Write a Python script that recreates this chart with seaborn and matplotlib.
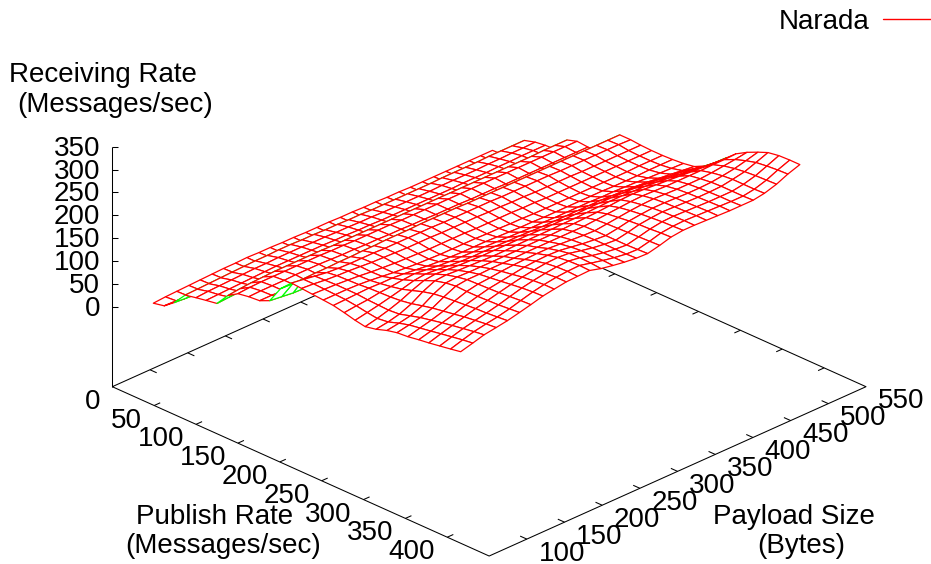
import numpy as np
import seaborn as sns
import matplotlib
matplotlib.use("Agg")
import matplotlib.pyplot as plt
from matplotlib.lines import Line2D
from mpl_toolkits.mplot3d import proj3d

sns.set_theme(style="white")
plt.rcParams["font.family"] = ["Liberation Sans", "DejaVu Sans"]
plt.rcParams["text.color"] = "black"

# values
publish_rate = [49, 62, 74, 87, 100, 112, 125, 138, 150, 163, 176, 188, 201, 214, 226, 239, 252, 264, 277, 290, 302, 315, 328, 340, 353, 366, 378, 391, 404, 416]
payload_size = [50, 66, 81, 97, 112, 128, 143, 159, 174, 190, 205, 221, 236, 252, 267, 283, 298, 314, 329, 345, 360, 376, 391, 407, 422, 438, 453, 469, 484, 500]
receiving_rate = [
    [48, 53, 70, 97, 102, 106, 110, 138, 152, 156, 158, 168, 205, 228, 226, 224, 222, 220, 215, 209, 205, 210, 218, 223, 225, 229, 232, 236, 240, 244],
    [50, 52, 68, 98, 104, 107, 112, 141, 154, 157, 158, 165, 204, 224, 224, 223, 222, 221, 218, 214, 211, 214, 222, 228, 232, 236, 240, 244, 248, 251],
    [51, 52, 66, 99, 105, 108, 113, 143, 155, 157, 157, 162, 204, 220, 221, 222, 222, 222, 220, 219, 218, 220, 227, 233, 238, 243, 247, 251, 255, 258],
    [52, 53, 66, 100, 106, 109, 114, 144, 155, 157, 157, 161, 205, 216, 219, 220, 221, 223, 224, 225, 227, 231, 237, 242, 246, 250, 254, 257, 260, 262],
    [53, 54, 67, 101, 107, 110, 115, 145, 155, 158, 156, 160, 205, 214, 218, 218, 219, 222, 226, 231, 238, 246, 252, 255, 257, 259, 261, 262, 264, 266],
    [54, 55, 68, 102, 108, 111, 115, 145, 155, 158, 157, 160, 206, 213, 216, 215, 216, 222, 229, 238, 248, 258, 264, 267, 266, 266, 267, 268, 270, 272],
    [55, 56, 70, 103, 108, 112, 116, 145, 155, 158, 157, 159, 206, 213, 214, 213, 213, 220, 231, 241, 251, 260, 266, 270, 271, 272, 273, 275, 277, 278],
    [55, 56, 71, 103, 109, 112, 116, 145, 155, 157, 157, 160, 207, 213, 213, 211, 211, 217, 228, 239, 249, 258, 265, 270, 273, 276, 279, 282, 284, 285],
    [56, 56, 72, 104, 109, 112, 116, 145, 154, 156, 156, 160, 207, 212, 212, 210, 209, 214, 225, 236, 247, 257, 265, 271, 276, 280, 284, 287, 289, 289],
    [55, 56, 72, 104, 109, 112, 115, 144, 154, 156, 156, 160, 208, 212, 211, 209, 208, 212, 223, 234, 246, 256, 265, 271, 278, 284, 288, 291, 293, 293],
    [55, 55, 71, 103, 108, 112, 115, 144, 153, 155, 156, 160, 208, 212, 211, 208, 207, 211, 222, 233, 245, 255, 265, 271, 279, 286, 291, 294, 295, 294],
    [54, 55, 70, 103, 108, 111, 114, 144, 153, 155, 155, 160, 208, 212, 211, 208, 207, 210, 221, 233, 245, 255, 265, 272, 280, 287, 292, 295, 296, 295],
    [54, 54, 70, 102, 107, 111, 114, 144, 153, 154, 155, 160, 209, 212, 210, 208, 207, 210, 221, 233, 245, 256, 266, 272, 280, 286, 290, 291, 290, 288],
    [53, 54, 69, 102, 107, 110, 113, 144, 153, 154, 155, 160, 209, 211, 210, 208, 207, 210, 220, 232, 245, 256, 266, 272, 278, 282, 284, 284, 284, 283],
    [53, 53, 68, 101, 106, 110, 113, 144, 152, 153, 154, 160, 209, 211, 210, 207, 206, 209, 219, 232, 245, 256, 266, 272, 276, 278, 279, 279, 279, 279],
    [53, 53, 68, 101, 106, 109, 112, 144, 152, 153, 154, 159, 209, 211, 210, 207, 206, 208, 218, 231, 244, 256, 267, 272, 274, 275, 275, 275, 275, 276],
    [52, 52, 67, 100, 105, 109, 112, 144, 152, 152, 153, 159, 208, 211, 209, 207, 205, 207, 217, 230, 244, 257, 268, 272, 273, 273, 273, 273, 274, 275],
    [52, 52, 67, 100, 105, 109, 112, 144, 152, 152, 153, 158, 208, 211, 209, 207, 205, 207, 217, 230, 244, 257, 269, 274, 276, 277, 278, 279, 280, 281],
    [51, 52, 66, 100, 105, 109, 112, 144, 152, 152, 152, 158, 208, 210, 208, 206, 204, 206, 216, 230, 244, 258, 270, 276, 279, 282, 284, 285, 287, 288],
    [51, 51, 66, 100, 105, 109, 112, 144, 152, 151, 152, 157, 208, 210, 208, 206, 204, 206, 216, 230, 245, 259, 272, 278, 282, 285, 287, 289, 290, 291],
    [50, 51, 66, 100, 105, 109, 112, 144, 152, 151, 151, 157, 208, 210, 207, 205, 204, 206, 216, 230, 245, 260, 274, 280, 284, 287, 289, 290, 291, 291],
    [50, 50, 65, 100, 106, 109, 112, 144, 152, 151, 151, 156, 208, 210, 207, 205, 204, 206, 216, 230, 245, 260, 275, 281, 285, 287, 288, 289, 290, 290],
    [49, 50, 65, 101, 106, 110, 113, 144, 152, 150, 151, 156, 208, 210, 207, 205, 204, 206, 215, 229, 244, 259, 274, 280, 284, 286, 287, 288, 289, 289],
    [49, 50, 65, 101, 106, 110, 113, 144, 152, 150, 151, 156, 208, 209, 207, 205, 204, 206, 215, 228, 243, 258, 272, 279, 283, 285, 286, 287, 288, 288],
    [49, 50, 65, 101, 106, 110, 113, 144, 152, 150, 150, 155, 208, 209, 206, 205, 204, 205, 214, 226, 241, 256, 270, 279, 283, 285, 286, 287, 287, 288],
    [49, 50, 65, 101, 107, 111, 113, 144, 152, 150, 150, 155, 208, 209, 206, 205, 204, 205, 213, 224, 238, 253, 268, 279, 283, 286, 287, 287, 287, 288],
    [49, 50, 64, 102, 107, 111, 113, 144, 152, 150, 150, 154, 208, 209, 206, 205, 204, 205, 211, 221, 235, 250, 266, 279, 285, 289, 291, 291, 291, 292],
    [49, 50, 64, 102, 108, 112, 113, 145, 152, 150, 150, 153, 208, 209, 206, 205, 205, 206, 210, 218, 232, 247, 264, 280, 288, 293, 296, 298, 299, 300],
    [49, 50, 64, 102, 108, 112, 113, 145, 152, 150, 150, 153, 208, 209, 206, 205, 205, 206, 209, 215, 228, 244, 263, 280, 291, 299, 305, 308, 310, 311],
    [49, 50, 64, 102, 109, 112, 113, 145, 152, 150, 150, 152, 208, 208, 206, 205, 205, 206, 208, 212, 223, 241, 262, 281, 295, 306, 315, 319, 320, 320],
]
x_ticks = [0, 50, 100, 150, 200, 250, 300, 350, 400]
y_ticks = [100, 150, 200, 250, 300, 350, 400, 450, 500, 550]
z_ticks = [0, 50, 100, 150, 200, 250, 300, 350]

W, H = 931, 564
FS = 20
x0, x1 = 0, 450
y0, y1 = 50, 550
base = -175
ztop = 350

fig = plt.figure(figsize=(W / 100, H / 100), dpi=100)
side = 800
ax = fig.add_axes([0, 0, side / W, side / H], projection="3d", proj_type="ortho")
ax.computed_zorder = False
ax.set_axis_off()
ax.view_init(elev=26.7, azim=-45)
ax.set_xlim(x0, x1)
ax.set_ylim(y0, y1)
ax.set_zlim(base, ztop)
ax.set_box_aspect((1, 1, 0.504))


def to_2d(x, y, z):
    xs, ys, _ = proj3d.proj_transform(np.asarray(x, float), np.asarray(y, float), np.asarray(z, float), ax.get_proj())
    return xs, ys


def pixel(x, y, z):
    return ax.transData.transform(np.array(to_2d(x, y, z)).T)


# put the base corners where they are in the reference
ax.apply_aspect()
left_c = pixel(x0, y0, base)
right_c = pixel(x1, y1, base)
side = side * (866 - 112.3) / (right_c[0] - left_c[0])
ax.set_position([0, 0, side / W, side / H])
ax.apply_aspect()
left_c = pixel(x0, y0, base)
ax.set_position([(112.3 - left_c[0]) / W, (H - 386.7 - left_c[1]) / H, side / W, side / H])
ax.apply_aspect()

# surface, green where we look at the underside
X, Y = np.meshgrid(publish_rate, payload_size)
Z = np.array(receiving_rate, dtype=float)
surf = ax.plot_surface(X, Y, Z, rstride=1, cstride=1, color="white", shade=False,
                       linewidth=0.9, zorder=3, antialiased=True)
px, py = to_2d(X.ravel(), Y.ravel(), Z.ravel())
px = px.reshape(X.shape)
py = py.reshape(X.shape)
area = ((px[:-1, 1:] - px[:-1, :-1]) * (py[1:, :-1] - py[:-1, :-1])
        - (py[:-1, 1:] - py[:-1, :-1]) * (px[1:, :-1] - px[:-1, :-1]))
surf.set_edgecolor(["#00ff00" if a < 0 else "#ff0000" for a in area.ravel()])

# box and ticks
lk = dict(color="black", lw=0.75, zorder=1, solid_capstyle="butt")
ax.plot([x0, x1, x1, x0, x0], [y0, y0, y1, y1, y0], [base] * 5, **lk)
ax.plot([x0, x0], [y0, y0], [base, ztop], **lk)
for v in x_ticks[1:]:
    ax.plot([v, v], [y0, y0 + 8], [base, base], **lk)
    ax.plot([v, v], [y1, y1 - 8], [base, base], **lk)
for v in y_ticks[:-1]:
    ax.plot([x1, x1 - 8], [v, v], [base, base], **lk)
    ax.plot([x0, x0 + 8], [v, v], [base, base], **lk)
for v in z_ticks:
    ax.plot([x0, x0 + 3.6], [y0, y0 + 4], [v, v], **lk)


def label(x, y, z, s, dx, dy, ha):
    p = to_2d(x, y, z)
    ax.annotate(s, xy=(float(p[0]), float(p[1])), xytext=(dx, dy), textcoords="offset pixels",
                ha=ha, va="center", fontsize=FS, color="black", annotation_clip=False)


for v in x_ticks:
    label(v, y0, base, str(v), -12, -15, "right")
for v in y_ticks:
    label(x1, v, base, str(v), 35, -14.5, "center")
for v in z_ticks:
    label(x0, y0, v, str(v), -12, -2, "right")


def ftext(x, y, s, ha="left"):
    fig.text(x / W, 1 - y / H, s, ha=ha, va="center", fontsize=FS, color="black")


ftext(9, 75, "Receiving Rate")
ftext(17, 105, "(Messages/sec)")
ftext(215, 517, "Publish Rate", "center")
ftext(223, 546, "(Messages/sec)", "center")
ftext(794, 517, "Payload Size", "center")
ftext(801, 546, "(Bytes)", "center")

leg = fig.legend(handles=[Line2D([], [], color="#ff0000", lw=1.0, label="Narada")], loc="upper right",
                 bbox_to_anchor=(1.0, 1 - 9 / H), frameon=False, fontsize=FS, markerfirst=False,
                 handlelength=1.73, handletextpad=0.5, borderpad=0, borderaxespad=0)
leg.get_lines()[0].set_color("#ff0000")

fig.savefig("out.png", dpi=100)
